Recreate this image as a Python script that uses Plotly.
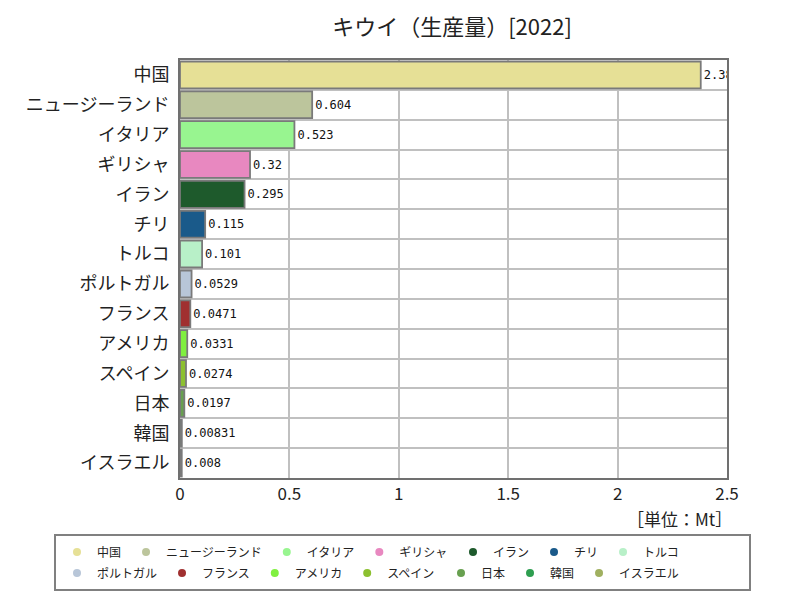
import plotly.graph_objects as go

countries = ["中国", "ニュージーランド", "イタリア", "ギリシャ", "イラン", "チリ", "トルコ",
             "ポルトガル", "フランス", "アメリカ", "スペイン", "日本", "韓国", "イスラエル"]
values = [2.38, 0.604, 0.523, 0.32, 0.295, 0.115, 0.101, 0.0529, 0.0471, 0.0331,
          0.0274, 0.0197, 0.00831, 0.008]
labels = ["2.38", "0.604", "0.523", "0.32", "0.295", "0.115", "0.101", "0.0529", "0.0471",
          "0.0331", "0.0274", "0.0197", "0.00831", "0.008"]
colors = ["#e6e096", "#bcc59c", "#98f590", "#e888c0", "#1e5a2c", "#1a5a8a", "#b8f0c8",
          "#b8c6d8", "#a03030", "#80f040", "#8cc030", "#68a050", "#2e9e50", "#a0b060"]
x_ticks = [0, 0.5, 1, 1.5, 2, 2.5]
x_tick_labels = ["0", "0.5", "1", "1.5", "2", "2.5"]

FONT = "Noto Sans CJK JP"
W, H = 800, 600
OFF = 8  # page body margin offset

# legend split: (legend id, first index, last index+1, screen x, screen y)
legend_groups = [("legend", 0, 4, 57, 552), ("legend2", 4, 7, 453, 552),
                 ("legend3", 7, 11, 57, 573), ("legend4", 11, 14, 441, 573)]

fig = go.Figure()
fig.add_trace(go.Bar(
    x=values, y=countries, orientation="h",
    marker=dict(color=colors, line=dict(color="#7a7a7a", width=1.8)),
    width=0.9,
    text=labels, textposition="outside", cliponaxis=True, constraintext="none",
    textfont=dict(family="DejaVu Sans Mono", size=12, color="#111"),
    showlegend=False, hoverinfo="x+y",
))
for lid, a, b, _, _ in legend_groups:
    for i in range(a, b):
        fig.add_trace(go.Scatter(
            x=[None], y=[None], mode="markers", name=countries[i], legend=lid,
            marker=dict(symbol="circle", size=8, color=colors[i]),
        ))

# plot area in screen px: x 180..727, y 60..478
pl, pr, pt, pb = 180 - OFF, 727 - OFF, 60 - OFF, 478 - OFF
ph = pb - pt
pw = pr - pl


def px_to_paper_x(x):
    return (x - OFF - pl) / pw


def px_to_paper_y(y):
    return (pb - (y - OFF)) / ph


leg_common = dict(orientation="h", xref="container", yref="container",
                  xanchor="left", yanchor="middle",
                  borderwidth=0, bgcolor="rgba(0,0,0,0)",
                  font=dict(size=12, color="#222"), itemwidth=30)

legends = {}
for lid, a, b, sx, sy in legend_groups:
    legends[lid] = dict(x=(sx - OFF) / W, y=1 - (sy - OFF) / H, **leg_common)

fig.update_layout(
    width=W, height=H,
    paper_bgcolor="white", plot_bgcolor="white",
    font=dict(family=FONT, color="#222"),
    margin=dict(l=pl, r=W - pr, t=pt, b=H - pb, autoexpand=False),
    title=dict(text="キウイ（生産量）[2022]", x=(452 - OFF) / W, xanchor="center",
               y=1 - (27 - OFF) / H, yanchor="middle",
               font=dict(size=22, color="#222")),
    xaxis=dict(range=[0, 2.5], tickvals=x_ticks, ticktext=x_tick_labels,
               showgrid=True, gridcolor="#c0c0c0", gridwidth=1.5,
               showline=True, linecolor="#707070", linewidth=2, mirror=True,
               ticks="", tickfont=dict(size=17, color="#222"), zeroline=False,
               automargin=False),
    yaxis=dict(autorange="reversed", tickson="boundaries", showgrid=True,
               gridcolor="#c0c0c0", gridwidth=1.5,
               showline=True, linecolor="#707070", linewidth=2, mirror=True,
               ticks="", tickfont=dict(size=18, color="#222"), ticklabelstandoff=5,
               automargin=False),
    shapes=[dict(type="rect", xref="paper", yref="paper",
                 x0=px_to_paper_x(55), x1=px_to_paper_x(750),
                 y0=px_to_paper_y(535), y1=px_to_paper_y(590),
                 line=dict(color="#808080", width=2), fillcolor="rgba(0,0,0,0)",
                 layer="above")],
    annotations=[dict(text="［単位：Mt］", xref="paper", yref="paper",
                      x=px_to_paper_x(734), y=px_to_paper_y(518),
                      xanchor="right", yanchor="middle", showarrow=False,
                      font=dict(size=17, color="#222"))],
    bargap=0.1,
    **legends,
)

fig.write_html("out.html")
